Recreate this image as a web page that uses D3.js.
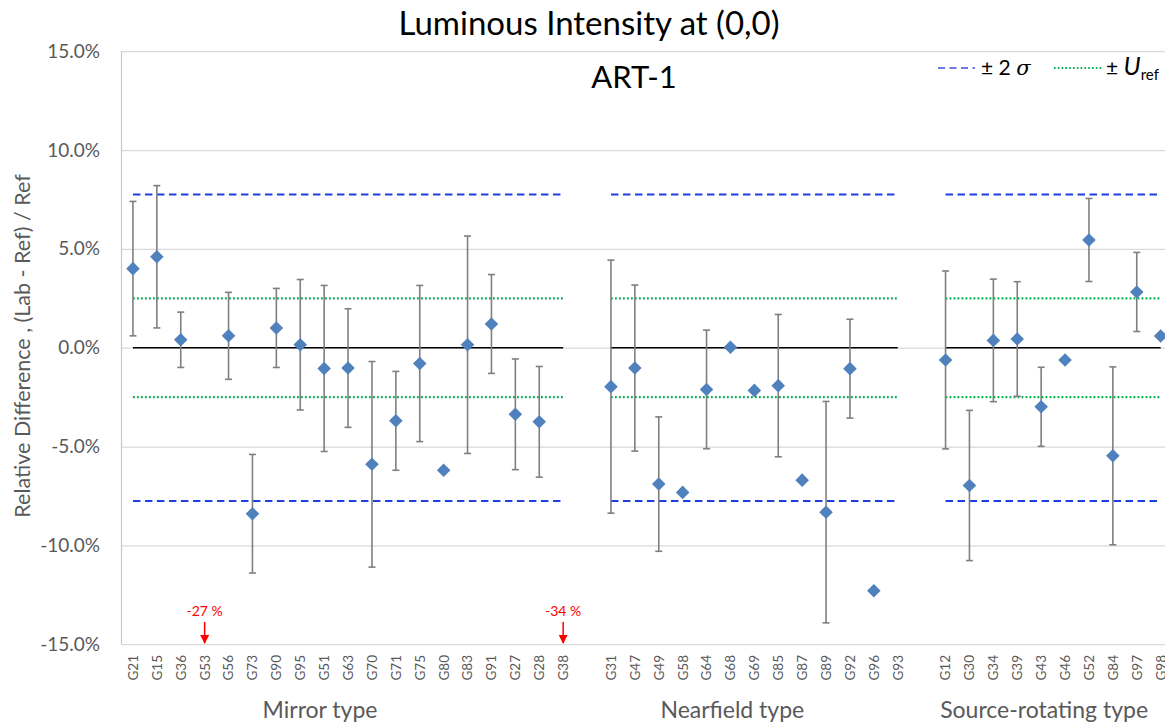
<!DOCTYPE html>
<html><head><meta charset="utf-8">
<script src="https://cdn.jsdelivr.net/npm/d3@7/dist/d3.min.js"></script>
<style>
html,body{margin:0;padding:0;background:#fff;}
svg{display:block;font-family:Lato,"Open Sans",sans-serif;}
</style></head>
<body>
<script>
// ---------- data ----------
const mirrorCats = ["G21","G15","G36","G53","G56","G73","G90","G95","G51","G63","G70","G71","G75","G80","G83","G91","G27","G28","G38"];
const mirrorVals = [4.0, 4.6, 0.4, null, 0.6, -8.4, 1.0, 0.15, -1.05, -1.03, -5.9, -3.7, -0.8, -6.2, 0.15, 1.2, -3.37, -3.75, null];
const mirrorErrs = [3.4, 3.6, 1.4, null, 2.2, 3.0, 2.0, 3.3, 4.2, 3.0, 5.2, 2.5, 3.95, null, 5.5, 2.5, 2.8, 2.8, null];

const nearCats = ["G31","G47","G49","G58","G64","G68","G69","G85","G87","G89","G92","G96","G93"];
const nearVals = [-1.97, -1.03, -6.9, -7.32, -2.11, 0.02, -2.16, -1.92, -6.7, -8.32, -1.06, -12.3, null];
const nearErrs = [6.4, 4.2, 3.4, null, 3.0, null, null, 3.6, null, 5.6, 2.5, null, null];

const srcCats = ["G12","G30","G34","G39","G43","G46","G52","G84","G97","G98"];
const srcVals = [-0.62, -6.97, 0.37, 0.44, -2.99, -0.62, 5.45, -5.47, 2.82, 0.59];
const srcErrs = [4.5, 3.8, 3.1, 2.9, 2.0, null, 2.1, 4.5, 2.0, null];

const groupNames = ["Mirror type", "Nearfield type", "Source-rotating type"];
const yTicks = [-15, -10, -5, 0, 5, 10, 15];
const sigma2 = 7.75;   // ±2σ
const uRef = 2.5;      // ±U_ref
const offChart = [{cat:"G53", label:"-27 %"}, {cat:"G38", label:"-34 %"}];

// ---------- layout ----------
const W = 1165, H = 726;
const groups = [
  {name: groupNames[0], cats: mirrorCats, vals: mirrorVals, errs: mirrorErrs, labelShift: -28},
  {name: groupNames[1], cats: nearCats, vals: nearVals, errs: nearErrs, labelShift: -22},
  {name: groupNames[2], cats: srcCats, vals: srcVals, errs: srcErrs, labelShift: -9}
];
const domain = [];
groups.forEach((g, i) => { if (i > 0) domain.push("__gap" + i); domain.push(...g.cats); });

const plotL = 121, plotT = 51.2, plotB = 644.2;
const x = d3.scaleBand().domain(domain).range([plotL, plotL + domain.length * 23.9]).padding(0);
const y = d3.scaleLinear().domain([-15, 15]).range([plotB, plotT]);
const cx = c => x(c) + x.bandwidth() / 2;

const svg = d3.select("body").append("svg").attr("width", W).attr("height", H);

// grid + y axis
const yAxis = d3.axisLeft(y).tickValues(yTicks).tickSize(-(W - plotL + 10)).tickPadding(21)
  .tickFormat(d => d.toFixed(1) + "%");
const ga = svg.append("g").attr("transform", `translate(${plotL},0)`).call(yAxis);
ga.select(".domain").remove();
ga.selectAll(".tick line").attr("stroke", "#d9d9d9").attr("stroke-width", 1.2);
ga.selectAll(".tick text").attr("fill", "#595959").style("font-size", "19px").style("font-family", "Lato");
// left border
svg.append("line").attr("x1", plotL + 0.5).attr("x2", plotL + 0.5).attr("y1", y(15)).attr("y2", y(-15))
  .attr("stroke", "#c8c8c8").attr("stroke-width", 1.2);

// reference lines per group
groups.forEach(g => {
  const x1 = cx(g.cats[0]), x2 = cx(g.cats[g.cats.length - 1]);
  [sigma2, -sigma2].forEach(v => svg.append("line").attr("x1", x1).attr("x2", x2).attr("y1", y(v)).attr("y2", y(v))
    .attr("stroke", "#1f3fdc").attr("stroke-width", 2).attr("stroke-dasharray", "7.5,4.5"));
  [uRef, -uRef].forEach(v => svg.append("line").attr("x1", x1).attr("x2", x2).attr("y1", y(v)).attr("y2", y(v))
    .attr("stroke", "#00b050").attr("stroke-width", 2.2).attr("stroke-dasharray", "1.8,2.2"));
  svg.append("line").attr("x1", x1).attr("x2", x2).attr("y1", y(0)).attr("y2", y(0))
    .attr("stroke", "#000").attr("stroke-width", 1.5);
});

// error bars and markers
const pts = [];
groups.forEach(g => g.cats.forEach((c, i) => { if (g.vals[i] != null) pts.push({c, v: g.vals[i], e: g.errs[i]}); }));
const eb = svg.append("g").attr("stroke", "#7f7f7f").attr("stroke-width", 1.6);
pts.filter(p => p.e != null).forEach(p => {
  const X = cx(p.c);
  eb.append("line").attr("x1", X).attr("x2", X).attr("y1", y(p.v + p.e)).attr("y2", y(p.v - p.e));
  [p.v + p.e, p.v - p.e].forEach(v => eb.append("line").attr("x1", X - 3.5).attr("x2", X + 3.5).attr("y1", y(v)).attr("y2", y(v)));
});
svg.append("g").selectAll("path").data(pts).join("path")
  .attr("d", d3.symbol(d3.symbolSquare, 92))
  .attr("transform", d => `translate(${cx(d.c)},${y(d.v)}) rotate(45)`)
  .attr("fill", "#4f81bd");

// off-chart annotations
svg.append("defs").append("marker").attr("id", "ah").attr("viewBox", "0 0 10 10").attr("refX", 9).attr("refY", 5)
  .attr("markerWidth", 9).attr("markerHeight", 9).attr("markerUnits", "userSpaceOnUse").attr("orient", "auto")
  .append("path").attr("d", "M0,0 L10,5 L0,10 z").attr("fill", "#ff0000");
offChart.forEach(o => {
  const X = cx(o.cat);
  svg.append("text").attr("x", X).attr("y", 616).attr("text-anchor", "middle").attr("fill", "#ff0000")
    .style("font-size", "14px").text(o.label);
  svg.append("line").attr("x1", X).attr("x2", X).attr("y1", 622).attr("y2", 643)
    .attr("stroke", "#ff0000").attr("stroke-width", 1.5).attr("marker-end", "url(#ah)");
});

// x category labels
svg.append("g").selectAll("text").data(domain.filter(d => !d.startsWith("__gap"))).join("text")
  .attr("transform", d => `translate(${cx(d)},655) rotate(-90)`)
  .attr("text-anchor", "end").attr("dy", "0.36em")
  .attr("fill", "#595959").style("font-size", "13.5px").text(d => d);

// group labels
groups.forEach(g => {
  const mid = (cx(g.cats[0]) + cx(g.cats[g.cats.length - 1])) / 2 + g.labelShift;
  svg.append("text").attr("x", mid).attr("y", 718).attr("text-anchor", "middle")
    .attr("fill", "#595959").style("font-size", "23px").text(g.name);
});

// titles
svg.append("text").attr("x", 589).attr("y", 35).attr("text-anchor", "middle").attr("fill", "#000")
  .style("font-size", "33px").text("Luminous Intensity at (0,0)");
svg.append("text").attr("x", 634).attr("y", 88).attr("text-anchor", "middle").attr("fill", "#000")
  .style("font-size", "31px").text("ART-1");

// y title
svg.append("text").attr("transform", "translate(30,346) rotate(-90)").attr("text-anchor", "middle")
  .attr("fill", "#595959").style("font-size", "21.5px").text("Relative Difference , (Lab - Ref) / Ref");

// legend
const lg = svg.append("g").attr("transform", "translate(0,68)");
lg.append("line").attr("x1", 938).attr("x2", 975).attr("y1", 0).attr("y2", 0)
  .attr("stroke", "#6b7ce0").attr("stroke-width", 2).attr("stroke-dasharray", "7,4.5");
const t1 = lg.append("text").attr("x", 981).attr("y", 7).attr("fill", "#000").style("font-size", "21px");
t1.append("tspan").text("± 2 ");
t1.append("tspan").style("font-style", "italic").style("font-family", "DejaVu Serif").text("σ");
lg.append("line").attr("x1", 1054).attr("x2", 1102).attr("y1", 0).attr("y2", 0)
  .attr("stroke", "#00b050").attr("stroke-width", 2).attr("stroke-dasharray", "1.6,2.2");
const t2 = lg.append("text").attr("x", 1106).attr("y", 7).attr("fill", "#000").style("font-size", "21px");
t2.append("tspan").text("± ");
t2.append("tspan").style("font-style", "italic").style("font-size", "25px").text("U");
t2.append("tspan").attr("dy", 5).style("font-size", "15px").text("ref");
</script>
</body></html>
